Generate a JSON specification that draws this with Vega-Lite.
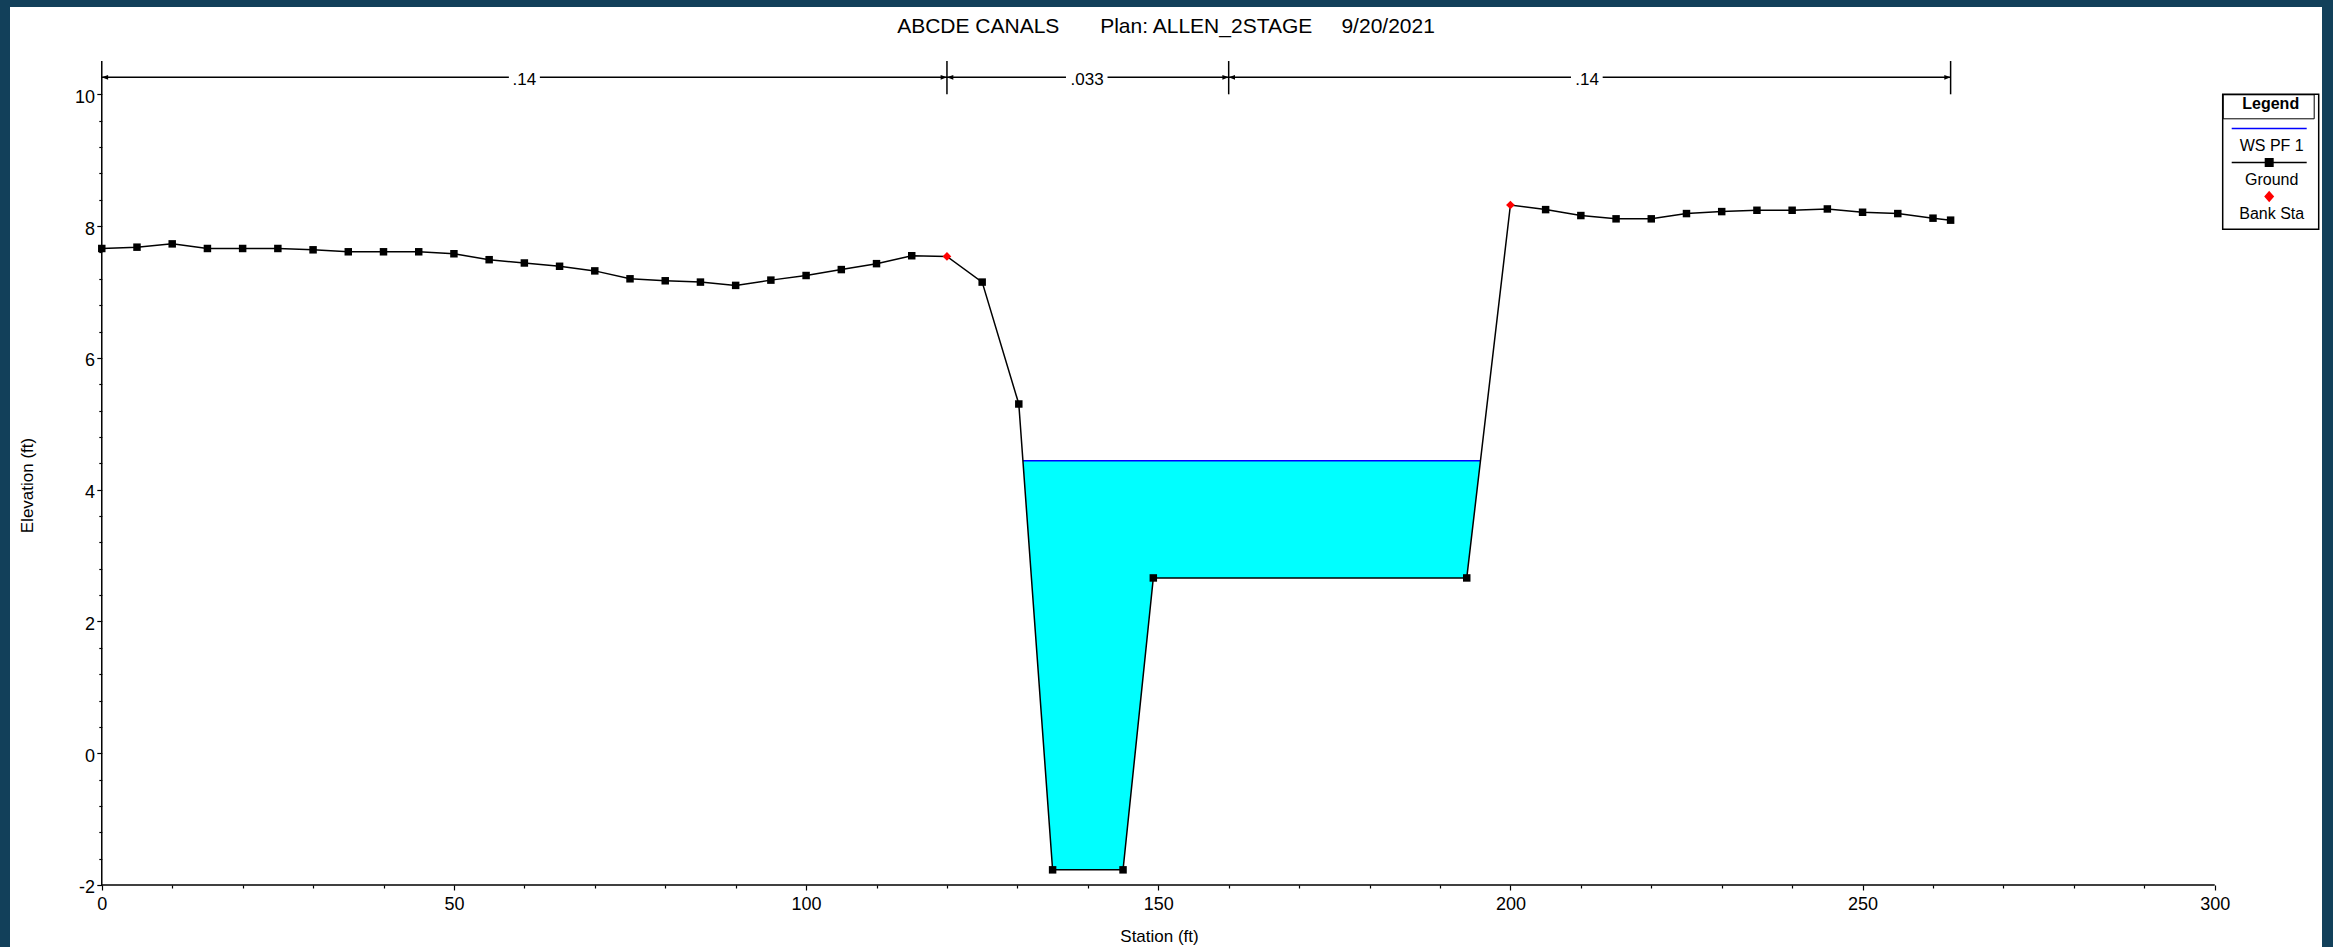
{
  "$schema": "https://vega.github.io/schema/vega-lite/v6.json",
  "width": 2312,
  "height": 940,
  "autosize": {"type": "none"},
  "padding": {"left": 10, "top": 7, "right": 11, "bottom": 0},
  "background": "#12405a",
  "title": {
    "text": "ABCDE CANALS\u00a0\u00a0\u00a0\u00a0\u00a0\u00a0\u00a0Plan: ALLEN_2STAGE\u00a0\u00a0\u00a0\u00a0\u00a09/20/2021",
    "font": "Liberation Sans",
    "fontSize": 21,
    "fontWeight": "normal",
    "color": "#000000",
    "anchor": "middle",
    "frame": "group",
    "baseline": "alphabetic",
    "offset": -23.7,
    "dy": 23
  },
  "config": {
    "view": {"stroke": null, "fill": "#ffffff"},
    "font": "Liberation Sans",
    "axis": {"labelOverlap": false}
  },
  "datasets": {
    "ground": [
      {"sta": 0, "elev": 7.66, "series": "Ground"},
      {"sta": 5, "elev": 7.68, "series": "Ground"},
      {"sta": 10, "elev": 7.73, "series": "Ground"},
      {"sta": 15, "elev": 7.66, "series": "Ground"},
      {"sta": 20, "elev": 7.66, "series": "Ground"},
      {"sta": 25, "elev": 7.66, "series": "Ground"},
      {"sta": 30, "elev": 7.64, "series": "Ground"},
      {"sta": 35, "elev": 7.61, "series": "Ground"},
      {"sta": 40, "elev": 7.61, "series": "Ground"},
      {"sta": 45, "elev": 7.61, "series": "Ground"},
      {"sta": 50, "elev": 7.58, "series": "Ground"},
      {"sta": 55, "elev": 7.49, "series": "Ground"},
      {"sta": 60, "elev": 7.44, "series": "Ground"},
      {"sta": 65, "elev": 7.39, "series": "Ground"},
      {"sta": 70, "elev": 7.32, "series": "Ground"},
      {"sta": 75, "elev": 7.2, "series": "Ground"},
      {"sta": 80, "elev": 7.17, "series": "Ground"},
      {"sta": 85, "elev": 7.15, "series": "Ground"},
      {"sta": 90, "elev": 7.1, "series": "Ground"},
      {"sta": 95, "elev": 7.18, "series": "Ground"},
      {"sta": 100, "elev": 7.25, "series": "Ground"},
      {"sta": 105, "elev": 7.34, "series": "Ground"},
      {"sta": 110, "elev": 7.43, "series": "Ground"},
      {"sta": 115, "elev": 7.55, "series": "Ground"},
      {"sta": 120, "elev": 7.54, "series": "Ground"},
      {"sta": 125, "elev": 7.15, "series": "Ground"},
      {"sta": 130.2, "elev": 5.3, "series": "Ground"},
      {"sta": 135, "elev": -1.77, "series": "Ground"},
      {"sta": 145, "elev": -1.77, "series": "Ground"},
      {"sta": 149.3, "elev": 2.66, "series": "Ground"},
      {"sta": 193.8, "elev": 2.66, "series": "Ground"},
      {"sta": 200, "elev": 8.32, "series": "Ground"},
      {"sta": 205, "elev": 8.25, "series": "Ground"},
      {"sta": 210, "elev": 8.16, "series": "Ground"},
      {"sta": 215, "elev": 8.11, "series": "Ground"},
      {"sta": 220, "elev": 8.11, "series": "Ground"},
      {"sta": 225, "elev": 8.19, "series": "Ground"},
      {"sta": 230, "elev": 8.22, "series": "Ground"},
      {"sta": 235, "elev": 8.24, "series": "Ground"},
      {"sta": 240, "elev": 8.24, "series": "Ground"},
      {"sta": 245, "elev": 8.26, "series": "Ground"},
      {"sta": 250, "elev": 8.21, "series": "Ground"},
      {"sta": 255, "elev": 8.19, "series": "Ground"},
      {"sta": 260, "elev": 8.12, "series": "Ground"},
      {"sta": 262.5, "elev": 8.09, "series": "Ground"}
    ],
    "water": [
      {"sta": 130.8, "ground": 4.44, "ws": 4.44},
      {"sta": 135, "ground": -1.77, "ws": 4.44},
      {"sta": 145, "ground": -1.77, "ws": 4.44},
      {"sta": 149.3, "ground": 2.66, "ws": 4.44},
      {"sta": 193.8, "ground": 2.66, "ws": 4.44},
      {"sta": 195.75, "ground": 4.44, "ws": 4.44}
    ],
    "ws": [
      {"x1": 130.8, "x2": 195.75, "elev": 4.44, "series": "WS PF 1"}
    ],
    "bank": [
      {"sta": 120, "elev": 7.54, "series": "Bank Sta"},
      {"sta": 200, "elev": 8.32, "series": "Bank Sta"}
    ],
    "lines": [
      {"x": 0, "x2": 300, "y": -2, "y2": -2},
      {"x": 0, "x2": 0, "y": -2, "y2": 10.505},
      {"x": 120, "x2": 120, "y": 10, "y2": 10.505},
      {"x": 160, "x2": 160, "y": 10, "y2": 10.505},
      {"x": 262.5, "x2": 262.5, "y": 10, "y2": 10.505},
      {"x": 0, "x2": 57.8, "y": 10.258, "y2": 10.258},
      {"x": 62.2, "x2": 120, "y": 10.258, "y2": 10.258},
      {"x": 120, "x2": 136.9, "y": 10.258, "y2": 10.258},
      {"x": 142.8, "x2": 160, "y": 10.258, "y2": 10.258},
      {"x": 160, "x2": 208.6, "y": 10.258, "y2": 10.258},
      {"x": 213.1, "x2": 262.5, "y": 10.258, "y2": 10.258}
    ],
    "arrows": [
      {"sta": 0, "elev": 10.258, "dir": "left"},
      {"sta": 120, "elev": 10.258, "dir": "right"},
      {"sta": 120, "elev": 10.258, "dir": "left"},
      {"sta": 160, "elev": 10.258, "dir": "right"},
      {"sta": 160, "elev": 10.258, "dir": "left"},
      {"sta": 262.5, "elev": 10.258, "dir": "right"}
    ],
    "nlabels": [
      {"sta": 60, "elev": 10.258, "label": ".14"},
      {"sta": 139.9, "elev": 10.258, "label": ".033"},
      {"sta": 210.9, "elev": 10.258, "label": ".14"}
    ]
  },
  "layer": [
    {
      "data": {"name": "water"},
      "mark": {"type": "area", "color": "#00ffff", "opacity": 1},
      "encoding": {
        "x": {
          "field": "sta", "type": "quantitative", "title": "Station (ft)",
          "scale": {"domain": [-13.03, 315.23], "nice": false, "zero": false},
          "axis": {
            "values": [0,10,20,30,40,50,60,70,80,90,100,110,120,130,140,150,160,170,180,190,200,210,220,230,240,250,260,270,280,290,300],
            "tickCount": 100,
            "labelExpr": "datum.value % 50 === 0 ? '' + datum.value : ''",
            "tickSize": {"condition": {"test": "datum.value % 50 === 0", "value": 5}, "value": 3},
            "offset": -62,
            "domain": false,
            "grid": false,
            "tickColor": "#000000",
            "tickWidth": 1.2,
            "labelFont": "Liberation Sans",
            "labelFontSize": 18,
            "labelColor": "#000000",
            "labelPadding": 5,
            "labelFlush": false,
            "labelOverlap": false,
            "title": "Station (ft)",
            "titleFont": "Liberation Sans",
            "titleFontSize": 17,
            "titleFontWeight": "normal",
            "titleColor": "#000000",
            "titleX": 1149,
            "titleY": 51,
            "titleAlign": "center",
            "titleBaseline": "middle"
          }
        },
        "y": {
          "field": "ground", "type": "quantitative", "title": "Elevation (ft)",
          "scale": {"domain": [-2.941, 11.325], "nice": false, "zero": false},
          "axis": {
            "values": [-2,-1.6,-1.2,-0.8,-0.4,0,0.4,0.8,1.2,1.6,2,2.4,2.8,3.2,3.6,4,4.4,4.8,5.2,5.6,6,6.4,6.8,7.2,7.6,8,8.4,8.8,9.2,9.6,10],
            "tickCount": 100,
            "labelExpr": "datum.value % 2 === 0 ? '' + datum.value : ''",
            "tickSize": {"condition": {"test": "datum.value % 2 === 0", "value": 5}, "value": 3},
            "offset": -91.8,
            "domain": false,
            "grid": false,
            "tickColor": "#000000",
            "tickWidth": 1.2,
            "labelFont": "Liberation Sans",
            "labelFontSize": 18,
            "labelColor": "#000000",
            "labelPadding": 2.3,
            "labelOffset": 3,
            "labelFlush": false,
            "labelOverlap": false,
            "title": "Elevation (ft)",
            "titleFont": "Liberation Sans",
            "titleFontSize": 17,
            "titleFontWeight": "normal",
            "titleColor": "#000000",
            "titleX": -74.8,
            "titleY": 478,
            "titleAngle": -90,
            "titleAlign": "center",
            "titleBaseline": "middle"
          }
        },
        "y2": {"field": "ws"}
      }
    },
    {
      "data": {"name": "ws"},
      "mark": {"type": "rule", "strokeWidth": 1.5},
      "encoding": {
        "x": {"field": "x1", "type": "quantitative", "title": "Station (ft)"},
        "x2": {"field": "x2"},
        "y": {"field": "elev", "type": "quantitative", "title": "Elevation (ft)"},
        "color": {
          "field": "series", "type": "nominal",
          "scale": {"domain": ["WS PF 1", "Ground", "Bank Sta"], "range": ["#0000ff", "#000000", "#ff0000"]},
          "legend": {
            "orient": "none",
            "legendX": 2212.7,
            "legendY": 87.3,
            "direction": "vertical",
            "title": "Legend",
            "titleFont": "Liberation Sans",
            "titleFontSize": 16,
            "titleFontWeight": "bold",
            "titleColor": "#000000",
            "titleAnchor": "middle",
            "titlePadding": 8.2,
            "padding": 2,
            "strokeColor": "#000000",
            "fillColor": null,
            "labelFont": "Liberation Sans",
            "labelFontSize": 16,
            "labelColor": "#000000",
            "labelAlign": "center",
            "labelBaseline": "middle",
            "labelOffset": -5.5,
            "labelLimit": 300,
            "symbolOffset": 36.5,
            "symbolSize": 100,
            "symbolStrokeWidth": 1.5,
            "rowPadding": 0,
            "encode": {
              "legend": {"update": {"strokeWidth": {"value": 1.5}}},
              "symbols": {"update": {
                "shape": {"signal": "datum.value === 'Bank Sta' ? 'M0,-0.9L0.8,0L0,0.9L-0.8,0ZM0,5.4L0,5.4M-8.9,0L-8.9,0M8.9,0L8.9,0' : datum.value === 'Ground' ? 'M-7.5,0H7.5M-0.75,-0.75H0.75V0.75H-0.75ZM-8.9,0L-8.9,0M8.9,0L8.9,0' : 'M-7.5,0H7.5M-8.9,0L-8.9,0M8.9,0L8.9,0'"},
                "fill": {"signal": "datum.value === 'Bank Sta' ? '#ff0000' : datum.value === 'Ground' ? '#000000' : 'transparent'"},
                "stroke": {"signal": "datum.value === 'Bank Sta' ? 'transparent' : datum.value === 'Ground' ? '#000000' : '#0000ff'"},
                "strokeWidth": {"value": 1.5},
                "opacity": {"value": 1}
              }},
              "labels": {"update": {"dy": {"value": 17.5}, "align": {"value": "center"}}}
            }
          }
        }
      }
    },
    {
      "data": {"name": "ground"},
      "mark": {"type": "line", "strokeWidth": 1.5},
      "encoding": {
        "x": {"field": "sta", "type": "quantitative", "title": "Station (ft)"},
        "y": {"field": "elev", "type": "quantitative", "title": "Elevation (ft)"},
        "color": {"field": "series", "type": "nominal"}
      }
    },
    {
      "data": {"name": "ground"},
      "transform": [{"filter": "datum.sta !== 120 && datum.sta !== 200"}],
      "mark": {"type": "point", "shape": "square", "filled": true, "size": 56, "color": "#000000", "opacity": 1},
      "encoding": {
        "x": {"field": "sta", "type": "quantitative", "title": "Station (ft)"},
        "y": {"field": "elev", "type": "quantitative", "title": "Elevation (ft)"}
      }
    },
    {
      "data": {"name": "bank"},
      "mark": {"type": "point", "shape": "diamond", "filled": true, "size": 75, "opacity": 1},
      "encoding": {
        "x": {"field": "sta", "type": "quantitative", "title": "Station (ft)"},
        "y": {"field": "elev", "type": "quantitative", "title": "Elevation (ft)"},
        "color": {"field": "series", "type": "nominal"}
      }
    },
    {
      "data": {"name": "lines"},
      "mark": {"type": "rule", "strokeWidth": 1.5, "color": "#000000"},
      "encoding": {
        "x": {"field": "x", "type": "quantitative", "title": "Station (ft)"},
        "x2": {"field": "x2"},
        "y": {"field": "y", "type": "quantitative", "title": "Elevation (ft)"},
        "y2": {"field": "y2"}
      }
    },
    {
      "data": {"name": "arrows"},
      "mark": {"type": "point", "filled": true, "size": 40, "color": "#000000", "opacity": 1, "strokeWidth": 0},
      "encoding": {
        "x": {"field": "sta", "type": "quantitative", "title": "Station (ft)"},
        "y": {"field": "elev", "type": "quantitative", "title": "Elevation (ft)"},
        "shape": {
          "field": "dir", "type": "nominal",
          "scale": {"domain": ["left", "right"], "range": ["M0,0L2,-0.75L2,0.75Z", "M0,0L-2,-0.75L-2,0.75Z"]},
          "legend": {
            "orient": "none",
            "legendX": 2212.7,
            "legendY": 87.3,
            "title": null,
            "direction": "horizontal",
            "columns": 2,
            "symbolSize": 0,
            "symbolOpacity": 0,
            "symbolStrokeWidth": 0,
            "labelExpr": "''",
            "labelFontSize": 1,
            "labelOffset": 0,
            "padding": 11.35,
            "columnPadding": 66.3,
            "rowPadding": 0,
            "strokeColor": "#000000",
            "fillColor": null,
            "encode": {"legend": {"update": {"strokeWidth": {"value": 1.5}}}}
          }
        }
      }
    },
    {
      "data": {"name": "nlabels"},
      "mark": {"type": "text", "font": "Liberation Sans", "fontSize": 17, "color": "#000000", "align": "center", "baseline": "middle", "dy": 3},
      "encoding": {
        "x": {"field": "sta", "type": "quantitative", "title": "Station (ft)"},
        "y": {"field": "elev", "type": "quantitative", "title": "Elevation (ft)"},
        "text": {"field": "label"}
      }
    }
  ]
}
